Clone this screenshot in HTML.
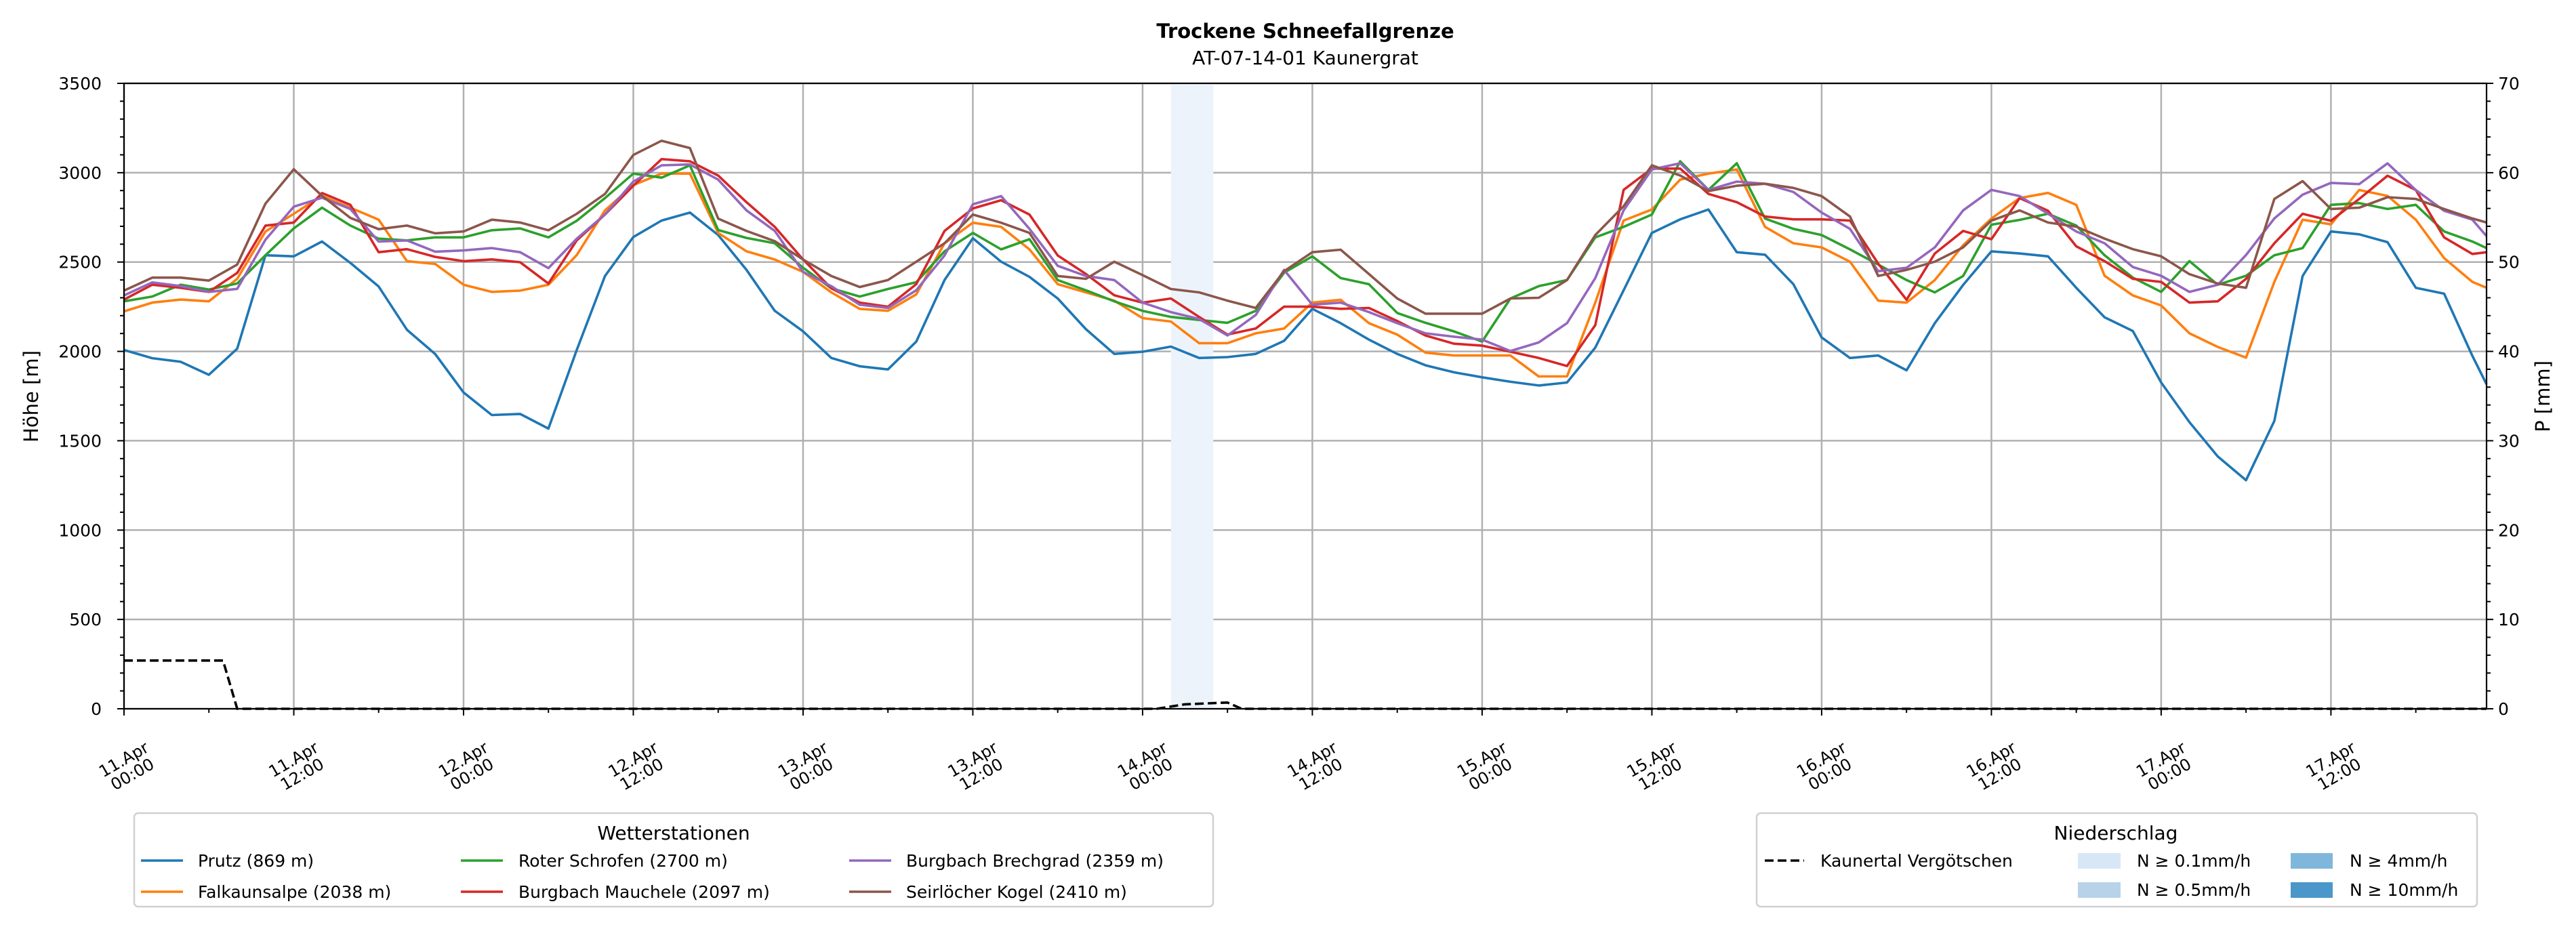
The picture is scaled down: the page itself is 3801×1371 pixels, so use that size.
<!DOCTYPE html>
<html><head><meta charset="utf-8"><title>Trockene Schneefallgrenze</title>
<style>
html,body{margin:0;padding:0;background:#fff;}
svg{display:block;font-family:"DejaVu Sans","Liberation Sans",sans-serif;}
</style></head>
<body>
<svg id="chart" width="3801" height="1371" viewBox="0 0 3801 1371" xmlns="http://www.w3.org/2000/svg">
<rect width="3801" height="1371" fill="#fff"/>
<text x="1926" y="56" text-anchor="middle" font-size="29" font-weight="bold">Trockene Schneefallgrenze</text>
<text x="1926" y="95" text-anchor="middle" font-size="28">AT-07-14-01 Kaunergrat</text>
<g id="grid"></g>
<g id="band"></g>
<g id="series"></g>
<g id="axes"></g>
<text transform="translate(56,585) rotate(-90)" text-anchor="middle" font-size="29">Höhe [m]</text>
<text transform="translate(3762,585) rotate(-90)" text-anchor="middle" font-size="29">P [mm]</text>

<g>
<rect x="198" y="1200" width="1592" height="138" rx="6" fill="#fff" stroke="#d0d0d0" stroke-width="2.5"/>
<text x="994" y="1239" text-anchor="middle" font-size="28">Wetterstationen</text>
<g><line x1="208" y1="1270" x2="270" y2="1270" stroke="#1f77b4" stroke-width="3.6"/><text x="292" y="1279" font-size="25">Prutz (869 m)</text></g>
<g><line x1="208" y1="1316" x2="270" y2="1316" stroke="#ff7f0e" stroke-width="3.6"/><text x="292" y="1325" font-size="25">Falkaunsalpe (2038 m)</text></g>
<g><line x1="680" y1="1270" x2="742" y2="1270" stroke="#2ca02c" stroke-width="3.6"/><text x="765" y="1279" font-size="25">Roter Schrofen (2700 m)</text></g>
<g><line x1="680" y1="1316" x2="742" y2="1316" stroke="#d62728" stroke-width="3.6"/><text x="765" y="1325" font-size="25">Burgbach Mauchele (2097 m)</text></g>
<g><line x1="1253" y1="1270" x2="1315" y2="1270" stroke="#9467bd" stroke-width="3.6"/><text x="1337" y="1279" font-size="25">Burgbach Brechgrad (2359 m)</text></g>
<g><line x1="1253" y1="1316" x2="1315" y2="1316" stroke="#8c564b" stroke-width="3.6"/><text x="1337" y="1325" font-size="25">Seirlöcher Kogel (2410 m)</text></g>
</g>

<g>
<rect x="2592" y="1200" width="1063" height="138" rx="6" fill="#fff" stroke="#d0d0d0" stroke-width="2.5"/>
<text x="3122" y="1239" text-anchor="middle" font-size="28">Niederschlag</text>
<g><line x1="2604" y1="1270" x2="2662" y2="1270" stroke="#000" stroke-width="3.6" stroke-dasharray="13,6"/><text x="2686" y="1279" font-size="25">Kaunertal Vergötschen</text></g>
<g><rect x="3066" y="1259" width="63" height="23" fill="#d8e7f5"/><text x="3153" y="1279" font-size="25">N ≥ 0.1mm/h</text></g>
<g><rect x="3066" y="1302" width="63" height="23" fill="#b7d3ea"/><text x="3153" y="1322" font-size="25">N ≥ 0.5mm/h</text></g>
<g><rect x="3380" y="1259" width="62" height="23" fill="#7fb7dc"/><text x="3467" y="1279" font-size="25">N ≥ 4mm/h</text></g>
<g><rect x="3380" y="1302" width="62" height="23" fill="#4b97c9"/><text x="3467" y="1322" font-size="25">N ≥ 10mm/h</text></g>
</g>
</svg>
<script>
const prutz=[2008,1962,1942,1869,2015,2538,2532,2615,2495,2363,2121,1985,1770,1644,1650,1568,2008,
2422,2640,2732,2777,2651,2456,2227,2112,1963,1917,1899,2055,2399,2633,2502,2417,2296,
2124,1986,1998,2027,1963,1968,1986,2059,2238,2158,2066,1986,1922,1883,1855,1830,1809,
1826,2021,2342,2663,2739,2794,2555,2541,2376,2078,1963,1977,1894,2158,2372,2560,2548,
2532,2356,2191,2114,1826,1604,1412,1279,1611,2422,2671,2655,2611,2356,2323,1975,1816];
const falkaunsalpe=[2224,2273,2290,2280,2406,2671,2770,2870,2804,2737,2505,2489,2373,2333,2340,2373,2539,
2789,2931,2995,2995,2663,2560,2514,2445,2330,2238,2227,2319,2605,2720,2697,2571,2376,
2330,2284,2186,2167,2046,2046,2101,2128,2273,2289,2158,2094,1993,1977,1977,1977,1860,
1860,2273,2732,2794,2961,2995,3018,2697,2605,2582,2502,2284,2273,2399,2594,2743,2858,
2887,2820,2423,2313,2257,2101,2025,1965,2389,2737,2711,2903,2870,2737,2522,2389,2356];
const roterSchrofen=[2280,2307,2373,2346,2380,2538,2688,2804,2704,2631,2621,2638,2638,2678,2688,2638,2731,
2858,2995,2972,3041,2679,2635,2605,2468,2353,2307,2349,2387,2560,2663,2571,2628,2399,
2342,2280,2227,2193,2176,2160,2227,2440,2532,2410,2376,2215,2160,2112,2055,2296,2365,
2399,2638,2697,2766,3064,2904,3053,2743,2686,2651,2571,2486,2399,2330,2422,2709,2736,
2770,2704,2538,2413,2333,2505,2373,2423,2538,2578,2820,2830,2797,2820,2671,2615,2578];
const mauchele=[2290,2373,2356,2333,2439,2704,2721,2886,2820,2555,2572,2529,2505,2515,2499,2380,2621,
2766,2927,3076,3064,2984,2835,2697,2514,2353,2273,2250,2376,2674,2800,2846,2766,2537,
2433,2314,2273,2296,2193,2094,2128,2250,2250,2238,2243,2170,2089,2043,2032,1998,1963,
1918,2147,2904,3023,3023,2881,2835,2755,2739,2739,2732,2491,2289,2548,2674,2628,2858,
2787,2588,2505,2406,2389,2273,2280,2406,2605,2770,2731,2853,2983,2903,2638,2545,2555];
const brechgrad=[2313,2386,2366,2333,2350,2625,2810,2860,2797,2615,2621,2558,2565,2578,2555,2466,2631,
2766,2950,3041,3046,2961,2789,2674,2445,2365,2261,2243,2342,2537,2823,2869,2686,2479,
2422,2399,2273,2220,2181,2089,2204,2456,2261,2273,2220,2158,2101,2082,2066,2002,2050,
2158,2410,2789,3018,3053,2904,2950,2938,2892,2777,2686,2449,2468,2582,2789,2904,2869,
2770,2671,2605,2472,2423,2333,2373,2539,2744,2877,2943,2936,3052,2903,2787,2737,2645];
const seirloecher=[2340,2413,2413,2396,2486,2827,3019,2870,2747,2684,2704,2661,2671,2737,2721,2678,2770,
2881,3099,3179,3138,2743,2674,2617,2514,2422,2360,2399,2502,2605,2766,2720,2663,2422,
2406,2502,2427,2349,2330,2284,2243,2449,2555,2569,2433,2296,2211,2211,2211,2296,2300,
2399,2651,2812,3041,2984,2897,2927,2938,2915,2869,2755,2422,2456,2502,2582,2732,2789,
2721,2698,2631,2572,2532,2432,2380,2356,2853,2953,2797,2804,2863,2853,2797,2744,2721];
const precipHours=[0,7,8,73,75,78,79,167];
const precipVals=[5.4,5.4,0,0,0.5,0.7,0,0];
const bandStart=[74];
const bandEnd=[77];
const yTicks=[0,500,1000,1500,2000,2500,3000,3500];
const y2Ticks=[0,10,20,30,40,50,60,70];
const xTickLabels=[["11.Apr","00:00"],["11.Apr","12:00"],["12.Apr","00:00"],["12.Apr","12:00"],["13.Apr","00:00"],["13.Apr","12:00"],["14.Apr","00:00"],["14.Apr","12:00"],["15.Apr","00:00"],["15.Apr","12:00"],["16.Apr","00:00"],["16.Apr","12:00"],["17.Apr","00:00"],["17.Apr","12:00"]];

const L=183,R=3669,T=123,B=1046,HMAX=167;
const NS="http://www.w3.org/2000/svg";
const xs=h=>L+(R-L)*h/HMAX;
const ys=v=>B-(B-T)*v/3500;
const ys2=p=>B-(B-T)*p/70;
const hourOf=i=>Math.min(i*2,HMAX);
function mk(tag,attrs,parent){const e=document.createElementNS(NS,tag);for(const k in attrs)e.setAttribute(k,attrs[k]);parent.appendChild(e);return e;}
const grid=document.getElementById('grid'),axes=document.getElementById('axes'),series=document.getElementById('series'),band=document.getElementById('band');

yTicks.forEach(v=>{const g=mk('line',{x1:L,x2:R,y1:ys(v),y2:ys(v),stroke:'#b0b0b0','stroke-width':2.5},grid);

});
xTickLabels.forEach((lab,i)=>{const x=xs(i*12);const g=mk('line',{x1:x,x2:x,y1:T,y2:B,stroke:'#b0b0b0','stroke-width':2.5},grid);

});

bandStart.forEach((s,i)=>{const r=mk('rect',{x:xs(s),y:T,width:xs(bandEnd[i])-xs(s),height:B-T,fill:'#edf3fb'},band);

});

const sdef=[[prutz,'#1f77b4','line-prutz'],[falkaunsalpe,'#ff7f0e','line-falkaunsalpe'],[roterSchrofen,'#2ca02c','line-roter-schrofen'],[mauchele,'#d62728','line-burgbach-mauchele'],[brechgrad,'#9467bd','line-burgbach-brechgrad'],[seirloecher,'#8c564b','line-seirloecher-kogel']];
sdef.forEach(([arr,col,name])=>{const d=arr.map((v,i)=>(i?'L':'M')+xs(hourOf(i)).toFixed(1)+' '+ys(v).toFixed(1)).join(' ');
const p=mk('path',{d:d,fill:'none',stroke:col,'stroke-width':3.6,'stroke-linejoin':'round'},series);

});
const pd=precipHours.map((h,i)=>(i?'L':'M')+xs(h).toFixed(1)+' '+ys2(precipVals[i]).toFixed(1)).join(' ');
const pp=mk('path',{d:pd,fill:'none',stroke:'#000','stroke-width':3.6,'stroke-dasharray':'13,6'},series);



const frame=mk('rect',{x:L,y:T,width:R-L,height:B-T,fill:'none',stroke:'#000','stroke-width':2.2},axes);


for(let v=0;v<=3500;v+=100){const major=v%500===0;mk('line',{x1:L,x2:L-(major?10:6),y1:ys(v),y2:ys(v),stroke:'#000','stroke-width':2},axes);}
yTicks.forEach(v=>{const t=mk('text',{x:150,y:ys(v)+9,'text-anchor':'end','font-size':25},axes);t.textContent=v;

});
for(let p=0;p<=70;p+=2){const major=p%10===0;mk('line',{x1:R,x2:R+(major?10:6),y1:ys2(p),y2:ys2(p),stroke:'#000','stroke-width':2},axes);}
y2Ticks.forEach(p=>{const t=mk('text',{x:3686,y:ys2(p)+9,'text-anchor':'start','font-size':25},axes);t.textContent=p;

});
for(let h=0;h<=HMAX;h+=6){const major=h%12===0;mk('line',{x1:xs(h),x2:xs(h),y1:B,y2:B+(major?10:6),stroke:'#000','stroke-width':2},axes);}
xTickLabels.forEach((lab,i)=>{const x=xs(i*12)+5;const t=mk('text',{transform:`translate(${x},1130) rotate(-30)`,'text-anchor':'middle','font-size':24},axes);


const a=mk('tspan',{x:0,dy:'-0.1em'},t);a.textContent=lab[0];const b=mk('tspan',{x:0,dy:'1.05em'},t);b.textContent=lab[1];});
</script>
</body></html>
